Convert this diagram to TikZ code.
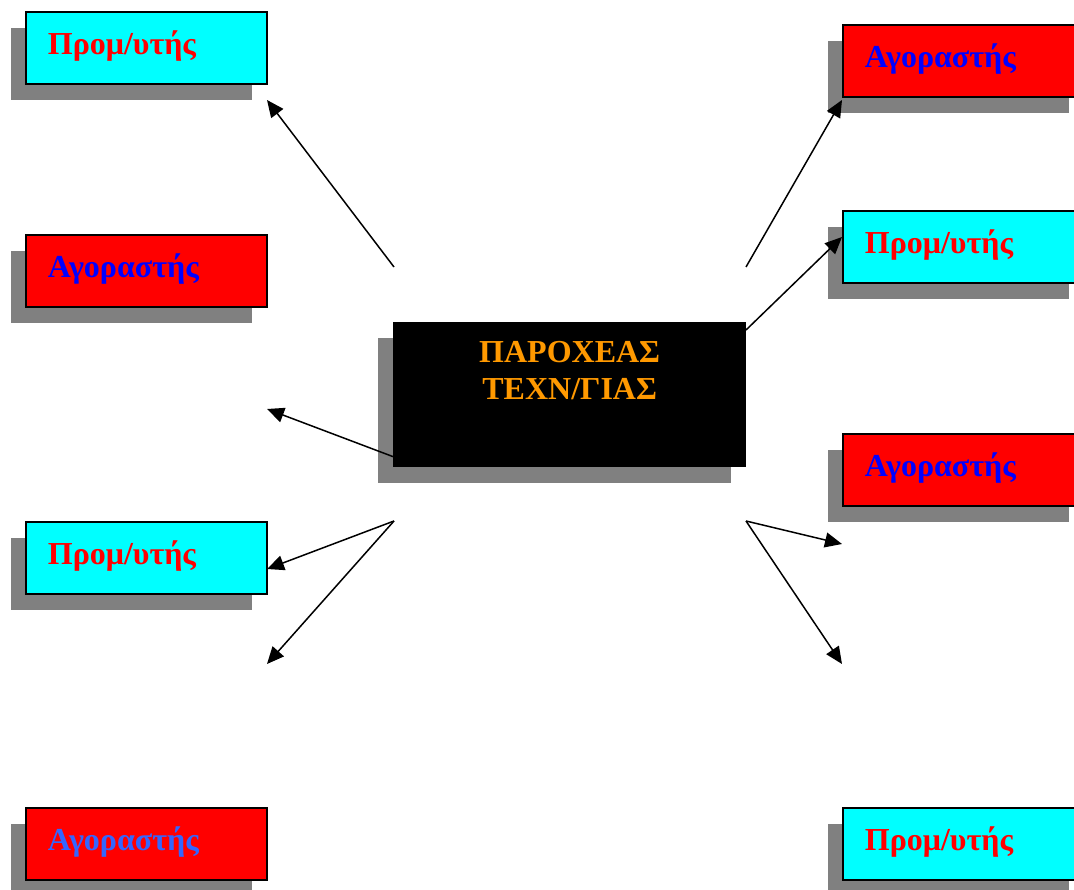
\documentclass[tikz,border=0pt]{standalone}
\usepackage{fontspec}
\setmainfont{Liberation Serif}
\usetikzlibrary{arrows.meta,shadows}
\definecolor{shadowgray}{HTML}{808080}
\definecolor{buyerfill}{HTML}{FF0000}
\definecolor{buyertext}{HTML}{0000FF}
\definecolor{buyertextlight}{HTML}{3366FF}
\definecolor{supplierfill}{HTML}{00FFFF}
\definecolor{suppliertext}{HTML}{FF0000}
\definecolor{techtext}{HTML}{FF9900}
\tikzset{
  boxshadow/.style={drop shadow={shadow xshift=-15pt, shadow yshift=-16pt,
      fill=shadowgray, opacity=1}},
  rolebox/.style={draw=black, line width=1.8pt, boxshadow,
      inner xsep=22pt, inner ysep=0pt, text width=197pt, align=left,
      text height=43pt, text depth=29pt, anchor=north west,
      font=\fontsize{32}{37}\selectfont\bfseries},
  buyer/.style={rolebox, fill=buyerfill, text=buyertext},
  supplier/.style={rolebox, fill=supplierfill, text=suppliertext},
  techbox/.style={fill=black, boxshadow, anchor=north west,
      inner sep=0pt, text width=353pt, align=center,
      text height=40pt, text depth=105pt, text=techtext,
      font=\fontsize{32}{37}\selectfont\bfseries},
  link/.style={line width=1.5pt, -{Triangle[length=17pt,width=15pt]}}
}
\begin{document}
\begin{tikzpicture}[x=1pt,y=-1pt]
\useasboundingbox (0,0) rectangle (1074,890);
\clip (0,0) rectangle (1074,890);

% left column
\node[supplier] (L1) at (25,11)  {Προμ/υτής};
\node[buyer]    (L2) at (25,234) {Αγοραστής};
\node[supplier] (L3) at (25,521) {Προμ/υτής};
\node[buyer, text=buyertextlight] (L4) at (25,807) {Αγοραστής};

% right column
\node[buyer]    (R1) at (842,24)  {Αγοραστής};
\node[supplier] (R2) at (842,210) {Προμ/υτής};
\node[buyer]    (R3) at (842,433) {Αγοραστής};
\node[supplier] (R4) at (842,807) {Προμ/υτής};

% technology provider
\node[techbox] (tech) at (393,322) {ΠΑΡΟΧΕΑΣ\\ΤΕΧΝ/ΓΙΑΣ};

% connector end points
\coordinate (s1) at (394,267);
\coordinate (t1) at (267,100);
\coordinate (s2) at (394,457);
\coordinate (t2) at (267,409);
\coordinate (s3) at (394,521);
\coordinate (t3) at (267,569);
\coordinate (t4) at (267,664);
\coordinate (s5) at (746,267);
\coordinate (t5) at (842,100);
\coordinate (s6) at (746,330);
\coordinate (t6) at (842,237);
\coordinate (s7) at (746,521);
\coordinate (t7) at (842,544);
\coordinate (t8) at (842,664);

\draw[link] (s1) -- (t1);
\draw[link] (s2) -- (t2);
\draw[link] (s3) -- (t3);
\draw[link] (s3) -- (t4);
\draw[link] (s5) -- (t5);
\draw[link] (s6) -- (t6);
\draw[link] (s7) -- (t7);
\draw[link] (s7) -- (t8);
\end{tikzpicture}
\end{document}
